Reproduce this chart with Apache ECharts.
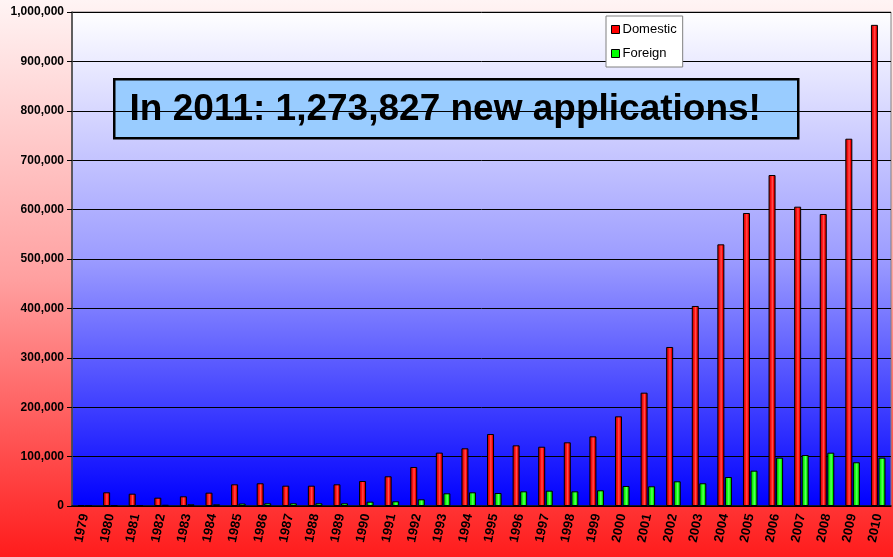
<!DOCTYPE html>
<html>
<head>
<meta charset="utf-8">
<script src="https://cdn.jsdelivr.net/npm/echarts@6/dist/echarts.min.js"></script>
<style>
html,body{margin:0;padding:0;}
#chart{width:893px;height:557px;}
</style>
</head>
<body>
<div id="chart"></div>
<script>
var years = ['1979','1980','1981','1982','1983','1984','1985','1986','1987','1988','1989','1990','1991','1992','1993','1994','1995','1996','1997','1998','1999','2000','2001','2002','2003','2004','2005','2006','2007','2008','2009','2010'];
var domestic = [2000, 27700, 24900, 16800, 19600, 27000, 43900, 46000, 41100, 41100, 43900, 50600, 60100, 79000, 108000, 116800, 145700, 122800, 120000, 128900, 141000, 181500, 229400, 321900, 404900, 529700, 593100, 670000, 605900, 591100, 743500, 974000];
var foreign = [500, 1200, 1500, 2500, 3500, 3500, 5000, 5500, 5500, 5500, 5500, 8700, 9500, 13500, 25700, 27700, 26300, 29700, 31000, 29700, 31800, 40500, 39900, 50000, 46000, 58700, 71500, 97800, 103200, 107900, 88500, 97800];
var yTicks = {min: 0, max: 1000000, interval: 100000};
var headline = 'In 2011: 1,273,827 new applications!';

function grad(stops){
  return new echarts.graphic.LinearGradient(0,0,1,0,stops);
}
var chart = echarts.init(document.getElementById('chart'));
chart.setOption({
  animation: false,
  backgroundColor: new echarts.graphic.LinearGradient(0,0,0,1,[
    {offset:0,color:'#fff4f4'},{offset:0.5,color:'#ffa0a0'},{offset:1,color:'#ff1c1c'}
  ]),
  grid: {
    left: 72, right: 2, top: 12, bottom: 51,
    show: true,
    borderColor: '#808080', borderWidth: 1,
    backgroundColor: new echarts.graphic.LinearGradient(0,0,0,1,[
      {offset:0,color:'#ffffff'},{offset:0.5,color:'#9c9cff'},{offset:1,color:'#0000ff'}
    ])
  },
  legend: {
    orient: 'vertical',
    left: 606, top: 16,
    backgroundColor: '#ffffff',
    borderColor: '#808080', borderWidth: 1,
    padding: [7, 6, 7, 5],
    itemWidth: 8, itemHeight: 8, itemGap: 11,
    icon: 'rect',
    textStyle: {fontFamily: 'Arial, Liberation Sans', fontSize: 13, color: '#000', padding:[0,0,0,-2]},
    data: [
      {name:'Domestic', itemStyle:{color:'#ff0000', borderColor:'#000', borderWidth:1}},
      {name:'Foreign', itemStyle:{color:'#00ff00', borderColor:'#000', borderWidth:1}}
    ]
  },
  xAxis: {
    type: 'category',
    data: years,
    axisLine: {lineStyle: {color: '#000', width: 1.5}},
    axisTick: {length: 5, lineStyle: {color: '#000'}},
    axisLabel: {
      rotate: 78, margin: 8, color: '#000',
      fontFamily: 'Arial, Liberation Sans', fontSize: 13, fontWeight: 'bold', interval: 0
    }
  },
  yAxis: {
    type: 'value',
    min: yTicks.min, max: yTicks.max, interval: yTicks.interval,
    axisLine: {show: true, lineStyle: {color: '#404040', width: 1.5}},
    axisTick: {show: true, length: 5, lineStyle: {color: '#000'}},
    splitLine: {lineStyle: {color: '#000', width: 1}},
    axisLabel: {
      color: '#000', margin: 8,
      fontFamily: 'Arial, Liberation Sans', fontSize: 12, fontWeight: 'bold',
      formatter: function(v){ return v.toString().replace(/\B(?=(\d{3})+(?!\d))/g, ','); }
    }
  },
  series: [
    {
      name: 'Domestic', type: 'bar', data: domestic,
      barWidth: 7, barGap: '8%',
      itemStyle: {
        color: grad([{offset:0,color:'#b00000'},{offset:0.35,color:'#ff1010'},{offset:0.55,color:'#ff5050'},{offset:0.75,color:'#ff0000'},{offset:1,color:'#900000'}]),
        borderColor: '#000', borderWidth: 1
      }
    },
    {
      name: 'Foreign', type: 'bar', data: foreign,
      barWidth: 7,
      itemStyle: {
        color: grad([{offset:0,color:'#00b000'},{offset:0.35,color:'#10ff10'},{offset:0.55,color:'#60ff60'},{offset:0.75,color:'#00ff00'},{offset:1,color:'#009000'}]),
        borderColor: '#000', borderWidth: 1
      }
    }
  ],
  graphic: [
    {
      type: 'group', left: 113, top: 78,
      children: [
        {type:'rect', shape:{x:0,y:0,width:684,height:59}, style:{fill:'#99ccff', stroke:'#000', lineWidth:2.5}},
        {type:'text', x: 331, y: 31, style:{text: headline, fill:'#000', font:'bold 37px Arial, "Liberation Sans", sans-serif', align:'center', verticalAlign:'middle'}}
      ]
    }
  ]
});
</script>
</body>
</html>
